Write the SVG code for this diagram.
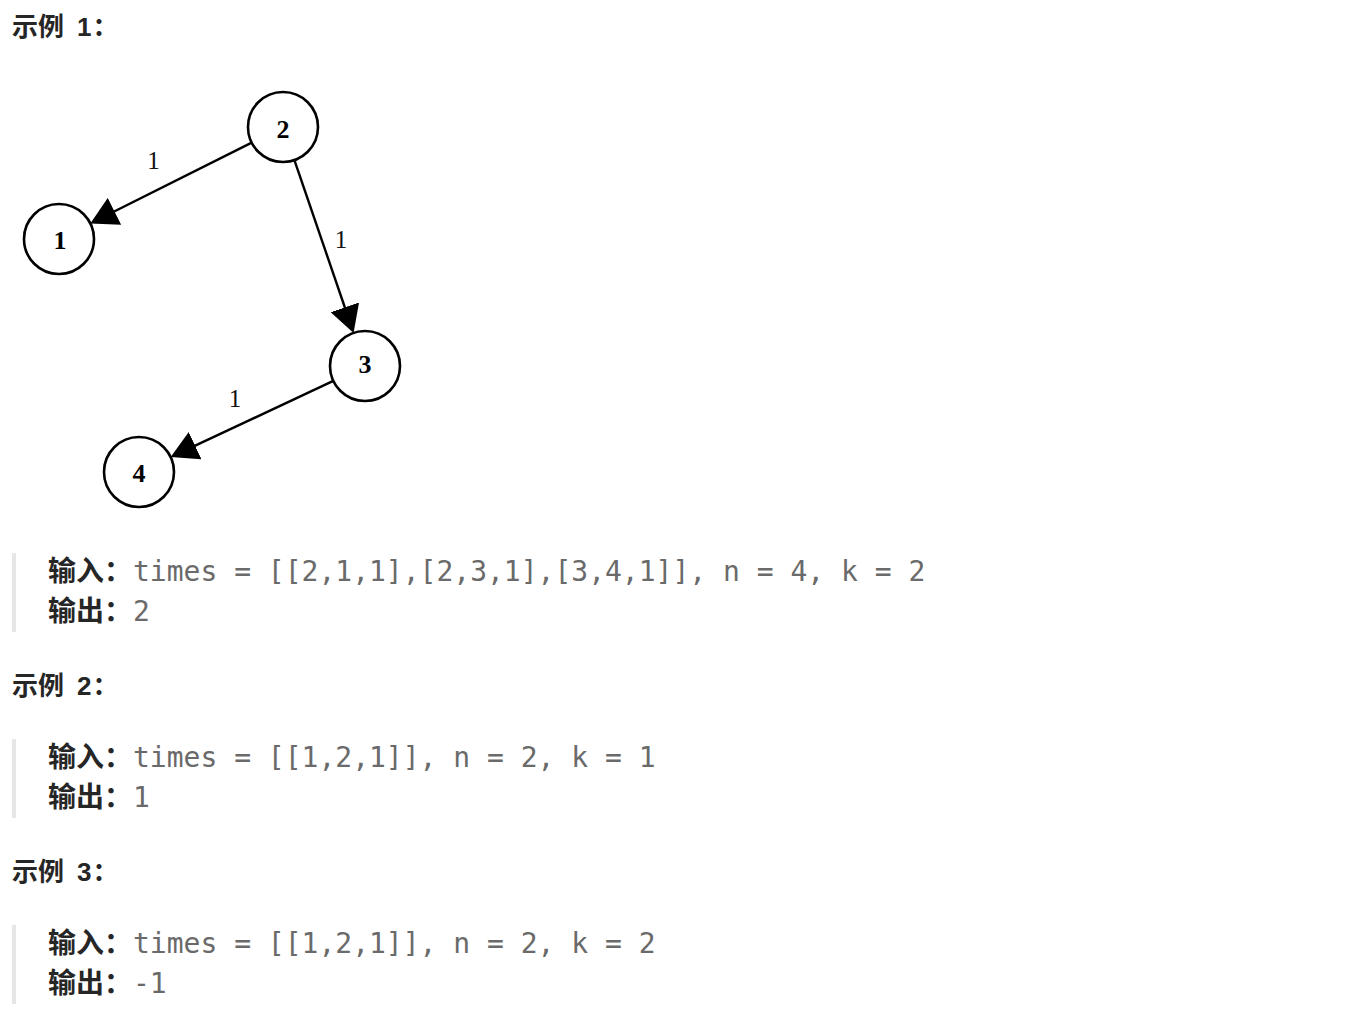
<svg xmlns="http://www.w3.org/2000/svg" width="1354" height="1014" viewBox="0 0 1354 1014">
<style>
.h{font-family:"Liberation Sans","Noto Sans CJK SC",sans-serif;font-weight:bold;font-size:26px;fill:#262626}
.hc{font-family:"Noto Sans CJK SC",sans-serif}
.lb{font-family:"Noto Sans CJK SC",sans-serif;font-weight:bold;font-size:28px;fill:#262626}
.mono{font-family:"DejaVu Sans Mono","Liberation Mono",monospace;font-size:28px;fill:#6a6a6a}
.bar{fill:#e6e6e6}
.node circle{fill:#ffffff;stroke:#000000;stroke-width:2.6}
.node text{font-family:"Liberation Serif","DejaVu Serif",serif;font-weight:bold;font-size:26px;fill:#000000;text-anchor:middle}
.edge{stroke:#000000;stroke-width:2.4;fill:none}
.elabel{font-family:"Liberation Serif","DejaVu Serif",serif;font-size:25px;fill:#111111;text-anchor:middle}
</style>
<defs>
<marker id="arrow" viewBox="0 0 27 30" refX="7" refY="15" markerWidth="27" markerHeight="30" markerUnits="userSpaceOnUse" orient="auto">
<path d="M0,0 L27,15 L0,30 Z" fill="#000000"/>
</marker>
</defs>
<rect width="1354" height="1014" fill="#ffffff"/>

<text class="h" y="36"><tspan class="hc" x="12">示例</tspan><tspan x="77">1</tspan><tspan class="hc" x="92.5">：</tspan></text>

<g id="connectors">
<g id="edge-2-1">
<line class="edge" x1="251.7" y1="142.6" x2="108.2" y2="214.5" marker-end="url(#arrow)"/>
<text class="elabel" x="153.5" y="169">1</text>
</g>
<g id="edge-2-3">
<line class="edge" x1="294.4" y1="160.1" x2="347.1" y2="314" marker-end="url(#arrow)"/>
<text class="elabel" x="341" y="248">1</text>
</g>
<g id="edge-3-4">
<line class="edge" x1="333.3" y1="380.9" x2="188.8" y2="448.6" marker-end="url(#arrow)"/>
<text class="elabel" x="235" y="407">1</text>
</g>
</g>

<g id="node-2" class="node"><circle cx="283" cy="127" r="35"/><text x="283" y="138">2</text></g>
<g id="node-1" class="node"><circle cx="59" cy="239" r="35"/><text x="60" y="249">1</text></g>
<g id="node-3" class="node"><circle cx="365" cy="366" r="35"/><text x="365" y="373">3</text></g>
<g id="node-4" class="node"><circle cx="139" cy="472" r="35"/><text x="139" y="482">4</text></g>

<g id="example-1">
<rect class="bar" x="12" y="553" width="4" height="79"/>
<text class="lb" x="48" y="581">输入：</text>
<text class="mono" x="133" y="581">times = [[2,1,1],[2,3,1],[3,4,1]], n = 4, k = 2</text>
<text class="lb" x="48" y="621">输出：</text>
<text class="mono" x="133" y="621">2</text>
</g>

<text class="h" y="695"><tspan class="hc" x="12">示例</tspan><tspan x="77">2</tspan><tspan class="hc" x="92.5">：</tspan></text>
<g id="example-2">
<rect class="bar" x="12" y="739" width="4" height="79"/>
<text class="lb" x="48" y="767">输入：</text>
<text class="mono" x="133" y="767">times = [[1,2,1]], n = 2, k = 1</text>
<text class="lb" x="48" y="807">输出：</text>
<text class="mono" x="133" y="807">1</text>
</g>

<text class="h" y="881"><tspan class="hc" x="12">示例</tspan><tspan x="77">3</tspan><tspan class="hc" x="92.5">：</tspan></text>
<g id="example-3">
<rect class="bar" x="12" y="925" width="4" height="79"/>
<text class="lb" x="48" y="953">输入：</text>
<text class="mono" x="133" y="953">times = [[1,2,1]], n = 2, k = 2</text>
<text class="lb" x="48" y="993">输出：</text>
<text class="mono" x="133" y="993">-1</text>
</g>
</svg>
